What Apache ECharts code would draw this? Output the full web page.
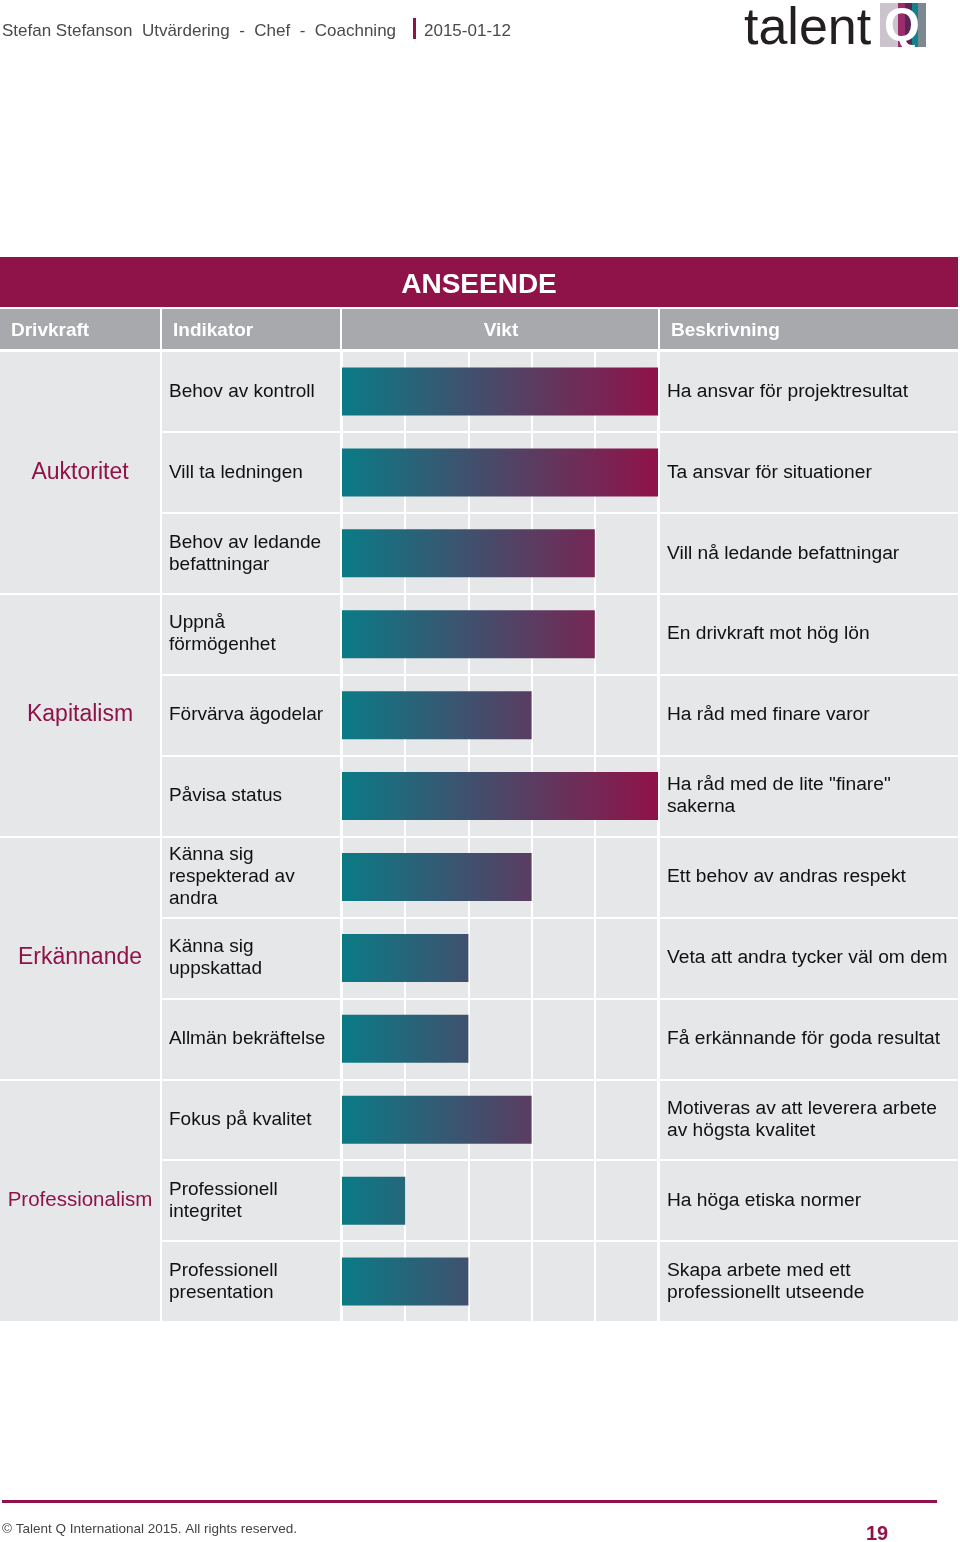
<!DOCTYPE html>
<html><head><meta charset="utf-8">
<script src="https://cdn.jsdelivr.net/npm/echarts@6/dist/echarts.min.js"></script>
<style>html,body{margin:0;padding:0;background:#fff}#c{width:960px;height:1542px}</style>
</head><body><div id="c"></div>
<script>
const drivers = ['Auktoritet', 'Kapitalism', 'Erkännande', 'Professionalism'];
const indicators = [
  'Behov av kontroll',
  'Vill ta ledningen',
  'Behov av ledande\nbefattningar',
  'Uppnå\nförmögenhet',
  'Förvärva ägodelar',
  'Påvisa status',
  'Känna sig\nrespekterad av\nandra',
  'Känna sig\nuppskattad',
  'Allmän bekräftelse',
  'Fokus på kvalitet',
  'Professionell\nintegritet',
  'Professionell\npresentation'
];
const weights = [5, 5, 4, 4, 3, 5, 3, 2, 2, 3, 1, 2];
const descriptions = [
  'Ha ansvar för projektresultat',
  'Ta ansvar för situationer',
  'Vill nå ledande befattningar',
  'En drivkraft mot hög lön',
  'Ha råd med finare varor',
  'Ha råd med de lite "finare"\nsakerna',
  'Ett behov av andras respekt',
  'Veta att andra tycker väl om dem',
  'Få erkännande för goda resultat',
  'Motiveras av att leverera arbete\nav högsta kvalitet',
  'Ha höga etiska normer',
  'Skapa arbete med ett\nprofessionellt utseende'
];
const weightMin = 0, weightMax = 5, weightStep = 1;
const headers = ['Drivkraft', 'Indikator', 'Vikt', 'Beskrivning'];
const pageTitle = 'ANSEENDE';
const subjectLine = 'Stefan Stefanson  Utvärdering  -  Chef  -  Coachning';
const dateText = '2015-01-12';
const footerText = '© Talent Q International 2015. All rights reserved.';
const pageNumber = '19';

const FONT = "'Liberation Sans', Arial, sans-serif";
const MAGENTA = '#8f1349';
const CELL = '#e6e7e8';
const HEAD = '#a7a9ac';

const TOP = 351, H = 971;
const cols = [
  { left: 0, width: 160 },
  { left: 162, width: 178 },
  { left: 342, width: 316 },
  { left: 660, width: 298 }
];

const chart = echarts.init(document.getElementById('c'), null, { renderer: 'canvas' });

const grids = cols.map(c => ({
  left: c.left, width: c.width, top: TOP, height: H,
  show: true, backgroundColor: CELL, borderWidth: 0, containLabel: false
}));

const hiddenX = i => ({
  gridIndex: i, type: 'value', min: 0, max: 1, show: false
});

const catSplit = { show: true, interval: 0, lineStyle: { color: '#ffffff', width: 2 } };

const xAxes = [
  hiddenX(0), hiddenX(1),
  {
    gridIndex: 2, type: 'value', min: weightMin, max: weightMax, interval: weightStep,
    axisLabel: { show: false }, axisLine: { show: false }, axisTick: { show: false },
    splitLine: { show: true, lineStyle: { color: '#ffffff', width: 2 } }
  },
  hiddenX(3)
];

const yAxes = [
  {
    gridIndex: 0, type: 'category', inverse: true, data: drivers,
    axisLine: { show: false }, axisTick: { show: false }, splitLine: catSplit,
    axisLabel: {
      inside: true, margin: 80, align: 'center', interval: 0,
      formatter: v => (v.length > 12 ? '{s|' + v + '}' : '{n|' + v + '}'),
      rich: {
        n: { fontFamily: FONT, fontSize: 23, color: MAGENTA },
        s: { fontFamily: FONT, fontSize: 20.5, color: MAGENTA }
      }
    }
  },
  {
    gridIndex: 1, type: 'category', inverse: true, data: indicators,
    axisLine: { show: false }, axisTick: { show: false }, splitLine: catSplit,
    axisLabel: {
      inside: true, margin: 7, align: 'left', interval: 0,
      fontFamily: FONT, fontSize: 19, lineHeight: 22, color: '#111'
    }
  },
  {
    gridIndex: 2, type: 'category', inverse: true, data: indicators,
    axisLine: { show: false }, axisTick: { show: false }, splitLine: catSplit,
    axisLabel: { show: false }
  },
  {
    gridIndex: 3, type: 'category', inverse: true, data: descriptions,
    axisLine: { show: false }, axisTick: { show: false }, splitLine: catSplit,
    axisLabel: {
      inside: true, margin: 7, align: 'left', interval: 0,
      fontFamily: FONT, fontSize: 19.2, lineHeight: 22, color: '#111'
    }
  }
];

const barData = weights.map(v => ({
  value: v,
  itemStyle: {
    color: new echarts.graphic.LinearGradient(0, 0, (weightMax - weightMin) / (v - weightMin), 0, [
      { offset: 0, color: '#0a7b86' },
      { offset: 1, color: '#901249' }
    ])
  }
}));

const headerGraphics = [];
cols.forEach((c, i) => {
  headerGraphics.push({
    type: 'rect', shape: { x: c.left, y: 309, width: c.width, height: 40 },
    style: { fill: HEAD }, silent: true
  });
  headerGraphics.push({
    type: 'text', silent: true,
    style: {
      text: headers[i],
      x: i === 2 ? c.left + c.width / 2 + 1 : c.left + 11,
      y: 331,
      align: i === 2 ? 'center' : 'left', verticalAlign: 'middle',
      font: 'bold 19px ' + FONT, fill: '#ffffff'
    }
  });
});

const graphics = [
  { type: 'text', silent: true, style: { text: subjectLine, x: 2, y: 31, verticalAlign: 'middle', font: '17px ' + FONT, fill: '#4a4a4a' } },
  { type: 'rect', silent: true, shape: { x: 413, y: 18, width: 3, height: 21 }, style: { fill: MAGENTA } },
  { type: 'text', silent: true, style: { text: dateText, x: 424, y: 31, verticalAlign: 'middle', font: '17px ' + FONT, fill: '#4a4a4a' } },
  // logo
  { type: 'text', silent: true, style: { text: 'talent', x: 744, y: 30, verticalAlign: 'middle', font: '52px ' + FONT, fill: '#231f20' } },
  { type: 'rect', silent: true, shape: { x: 880, y: 3, width: 46, height: 44 }, style: { fill: '#cbc4cd' } },
  { type: 'rect', silent: true, shape: { x: 898, y: 3, width: 7, height: 44 }, style: { fill: '#9c2d6c' } },
  { type: 'rect', silent: true, shape: { x: 905, y: 3, width: 7, height: 44 }, style: { fill: '#5a2656' } },
  { type: 'rect', silent: true, shape: { x: 912, y: 3, width: 6, height: 44 }, style: { fill: '#138189' } },
  { type: 'rect', silent: true, shape: { x: 918, y: 3, width: 8, height: 44 }, style: { fill: '#7d8991' } },
  { type: 'text', silent: true, style: { text: 'Q', x: 902, y: 27, align: 'center', verticalAlign: 'middle', font: 'bold 46px ' + FONT, fill: '#ffffff' } },
  // title band
  { type: 'rect', silent: true, shape: { x: 0, y: 257, width: 958, height: 50 }, style: { fill: MAGENTA } },
  { type: 'text', silent: true, style: { text: pageTitle, x: 479, y: 285, align: 'center', verticalAlign: 'middle', font: 'bold 28px ' + FONT, fill: '#ffffff' } },
  ...headerGraphics,
  // footer
  { type: 'rect', silent: true, shape: { x: 2, y: 1500, width: 935, height: 3 }, style: { fill: MAGENTA } },
  { type: 'text', silent: true, style: { text: footerText, x: 2, y: 1529, verticalAlign: 'middle', font: '13.5px ' + FONT, fill: '#444' } },
  { type: 'text', silent: true, style: { text: pageNumber, x: 877, y: 1534, align: 'center', verticalAlign: 'middle', font: 'bold 20px ' + FONT, fill: MAGENTA } }
];

chart.setOption({
  backgroundColor: '#ffffff',
  animation: false,
  grid: grids,
  xAxis: xAxes,
  yAxis: yAxes,
  series: [{
    type: 'bar', xAxisIndex: 2, yAxisIndex: 2,
    data: barData, barWidth: 48, silent: true
  }],
  graphic: graphics
});
</script>
</body></html>
